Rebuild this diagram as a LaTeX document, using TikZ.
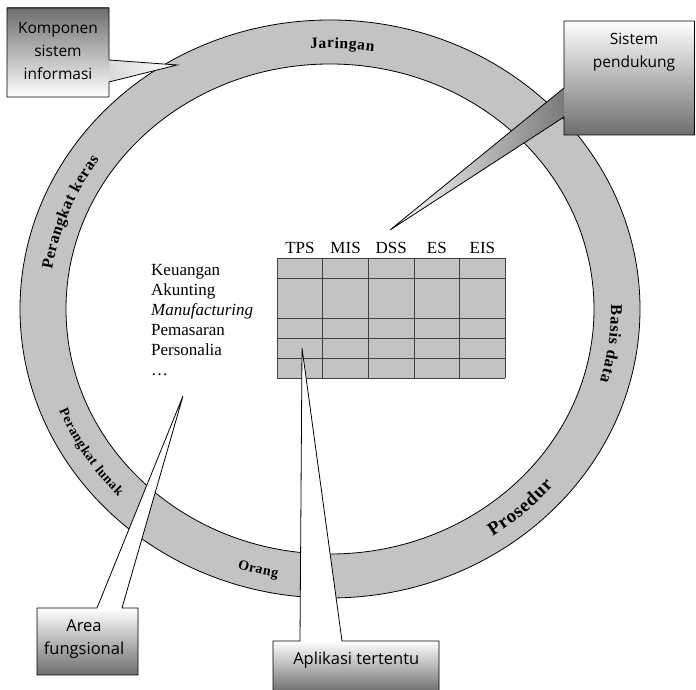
\documentclass[tikz,border=0pt]{standalone}
\usepackage{fontspec}
\setmainfont{Liberation Serif}
\newfontfamily\callfont{Open Sans}
\usetikzlibrary{decorations.text}
\definecolor{ringgray}{HTML}{C3C3C3}
\definecolor{boxdark}{HTML}{6E6E6E}
\definecolor{tipdark}{HTML}{7A7A7A}
\newcommand\rf[1]{\fontsize{#1}{#1}\selectfont\bfseries}
\begin{document}
\begin{tikzpicture}[x=1pt,y=1pt,
  ringline/.style={draw=black,line width=0.8pt},
  gridline/.style={draw=black!75,line width=0.6pt},
  tabtext/.style={font=\fontsize{17}{17}\selectfont,inner sep=0pt},
  calltext/.style={font=\callfont\fontsize{#1}{#1}\selectfont,inner sep=0pt},
  outline/.style={draw=black,line width=0.8pt,line join=miter},
  ringlabel/.style 2 args={decorate,decoration={text effects along path,text={#2},text align=center,
     text effects/.cd,text along path,
     characters={font=\rf{#1},inner sep=0pt},
     character widths={font=\rf{#1},inner xsep=0.3pt}}}]
\useasboundingbox (0,0) rectangle (696,690);
\fill[white] (0,0) rectangle (696,690);
\coordinate (C) at (330,381);
% ring
\fill[ringgray,even odd rule] (C) ellipse[x radius=310,y radius=289] (C) ellipse[x radius=264,y radius=245];
\draw[ringline] (C) ellipse[x radius=310,y radius=289];
\draw[ringline] (C) ellipse[x radius=264,y radius=245];
% ring labels
\begin{scope}[shift={(C)}]
\path[ringlabel={15.5}{Jaringan}] (108:281 and 261) arc[start angle=108,end angle=67,x radius=281,y radius=261];
\path[ringlabel={16}{Perangkat{\ }keras}] (186:281 and 261) arc[start angle=186,end angle=131,x radius=281,y radius=261];
\path[ringlabel={16.5}{Basis{\ }data}] (16:281 and 261) arc[start angle=16,end angle=-31,x radius=281,y radius=261];
\path[ringlabel={19}{Prosedur}] (-73:293 and 273) arc[start angle=-73,end angle=-23,x radius=293,y radius=273];
\path[ringlabel={14}{Orang}] (-125:293 and 273) arc[start angle=-125,end angle=-84,x radius=293,y radius=273];
\path[ringlabel={13.5}{Perangkat{\ }lunak}] (189:292 and 272) arc[start angle=189,end angle=236,x radius=292,y radius=272];
\end{scope}
% table
\fill[ringgray] (277,312) rectangle (505,432);
\foreach \y in {312,332,352,372,412,432} \draw[gridline] (277,\y) -- (505,\y);
\foreach \x in {277,322.6,368.2,413.8,459.4,505} \draw[gridline] (\x,312) -- (\x,432);
\node[tabtext,anchor=base] (tps) at (300,436.5) {TPS};
\node[tabtext,anchor=base] (mis) at (345.6,436.5) {MIS};
\node[tabtext,anchor=base] (dss) at (391.2,436.5) {DSS};
\node[tabtext,anchor=base] (es) at (436.8,436.5) {ES};
\node[tabtext,anchor=base] (eis) at (482.4,436.5) {EIS};
\node[tabtext,anchor=base west] (keu) at (151,414) {Keuangan};
\node[tabtext,anchor=base west] (aku) at (151,394) {Akunting};
\node[tabtext,anchor=base west] (man) at (151,374) {\itshape Manufacturing};
\node[tabtext,anchor=base west] (pem) at (151,354) {Pemasaran};
\node[tabtext,anchor=base west] (per) at (151,334) {Personalia};
\node[tabtext,anchor=base west] (dots) at (151,314) {\dots};
% callout: Komponen sistem informasi
\shade[top color=boxdark,bottom color=white] (7,593) rectangle (109,682);
\shade[left color=white!85!black,right color=white] (109,630) -- (177,625) -- (109,608) -- cycle;
\draw[outline] (7,682) -- (109,682) -- (109,630) -- (177,625) -- (109,608) -- (109,593) -- (7,593) -- cycle;
\node[calltext=15.5,anchor=base] (k1) at (58,656.7) {Komponen};
\node[calltext=15.5,anchor=base] (k2) at (58,633.3) {sistem};
\node[calltext=15.5,anchor=base] (k3) at (58,610) {informasi};
% callout: Sistem pendukung
\shade[top color=white,middle color=white!85!black,bottom color=boxdark] (564,555) rectangle (694.5,669);
\shade[left color=white,right color=tipdark] (564,573) -- (390,460) -- (564,602) -- cycle;
\draw[outline] (564,669) -- (694.5,669) -- (694.5,555) -- (564,555) -- (564,573) -- (390,460) -- (564,602) -- cycle;
\node[calltext=15.5,anchor=base] (s1) at (634,645) {Sistem};
\node[calltext=15.5,anchor=base] (s2) at (634,622) {pendukung};
% callout: Area fungsional
\shade[top color=white,bottom color=boxdark] (37,15) rectangle (138,82);
\shade[top color=white,middle color=tipdark,bottom color=white] (97,82) -- (183,294) -- (122,82) -- cycle;
\draw[outline] (37,82) -- (97,82) -- (183,294) -- (122,82) -- (138,82) -- (138,15) -- (37,15) -- cycle;
\node[calltext=16.5,anchor=base] (a1) at (84,58.3) {Area};
\node[calltext=16.5,anchor=base] (a2) at (84,35) {fungsional};
% callout: Aplikasi tertentu
\shade[top color=white,bottom color=boxdark] (273,-2) rectangle (439,49);
\shade[top color=white,middle color=tipdark,bottom color=white] (300,49) -- (302,342) -- (342,49) -- cycle;
\draw[outline] (273,-2) -- (273,49) -- (300,49) -- (302,342) -- (342,49) -- (439,49) -- (439,-2);
\node[calltext=16.5,anchor=base] (p1) at (356.3,25) {Aplikasi tertentu};
\end{tikzpicture}
\end{document}
